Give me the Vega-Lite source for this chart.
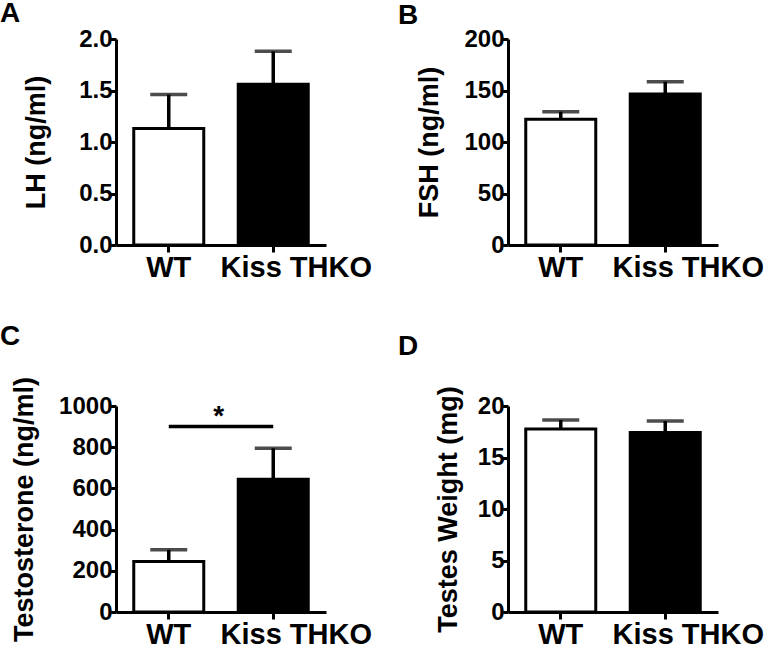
{
  "$schema": "https://vega.github.io/schema/vega-lite/v6.json",
  "padding": {"left": 0, "top": 0, "right": 0, "bottom": 0},
  "columns": 2,
  "bounds": "flush",
  "spacing": {"row": 161, "column": 182},
  "config": {
    "view": {"stroke": null},
    "font": "Liberation Sans",
    "axis": {"grid": false, "domainColor": "black", "domainWidth": 3, "tickColor": "black", "tickWidth": 3, "labelColor": "black", "titleColor": "black", "labelFontWeight": "bold", "titleFontWeight": "bold", "labelFont": "Liberation Sans", "titleFont": "Liberation Sans"},
    "axisY": {"labelFontSize": 24, "titleFontSize": 27, "tickSize": 6, "labelPadding": -2},
    "axisX": {"labelFontSize": 29, "tickSize": 7, "labelPadding": 1, "labelAngle": 0, "labelOffset": {"condition": {"test": "datum.label == 'WT'", "value": 0}, "value": 23}},
    "title": {"font": "Liberation Sans", "fontSize": 28, "fontWeight": "bold", "anchor": "start", "frame": "group", "color": "black", "offset": 0}
  },
  "concat": [
    {
      "width": 210, "height": 206,
      "title": {"text": "A", "dx": -116, "dy": 5},
      "data": {"values": [{"group": "WT", "value": 1.13, "upper": 1.46}, {"group": "Kiss THKO", "value": 1.56, "upper": 1.88}]},
      "encoding": {"x": {"field": "group", "type": "nominal", "title": null, "scale": {"domain": ["WT", "Kiss THKO"], "paddingInner": 0.33, "paddingOuter": 0.17}}},
      "layer": [
        {"mark": {"type": "rule", "strokeWidth": 3.5, "color": "black"}, "encoding": {"y": {"field": "value", "type": "quantitative", "title": "LH (ng/ml)"}, "y2": {"field": "upper"}}},
        {"mark": {"type": "bar", "stroke": "black", "strokeWidth": 3}, "encoding": {"y": {"field": "value", "type": "quantitative", "title": "LH (ng/ml)", "scale": {"domain": [0, 2]}, "axis": {"values": [0, 0.5, 1, 1.5, 2], "format": ".1f", "titlePadding": 28}}, "fill": {"field": "group", "type": "nominal", "scale": {"domain": ["WT", "Kiss THKO"], "range": ["white", "black"]}, "legend": null}}},
        {"mark": {"type": "tick", "thickness": 3.5, "size": 37, "color": "black"}, "encoding": {"y": {"field": "upper", "type": "quantitative", "title": "LH (ng/ml)"}}}
      ]
    },
    {
      "width": 210, "height": 206,
      "title": {"text": "B", "dx": -110, "dy": 7},
      "data": {"values": [{"group": "WT", "value": 122, "upper": 129.4}, {"group": "Kiss THKO", "value": 146.6, "upper": 158.5}]},
      "encoding": {"x": {"field": "group", "type": "nominal", "title": null, "scale": {"domain": ["WT", "Kiss THKO"], "paddingInner": 0.33, "paddingOuter": 0.17}}},
      "layer": [
        {"mark": {"type": "rule", "strokeWidth": 3.5, "color": "black"}, "encoding": {"y": {"field": "value", "type": "quantitative", "title": "FSH (ng/ml)"}, "y2": {"field": "upper"}}},
        {"mark": {"type": "bar", "stroke": "black", "strokeWidth": 3}, "encoding": {"y": {"field": "value", "type": "quantitative", "title": "FSH (ng/ml)", "scale": {"domain": [0, 200]}, "axis": {"values": [0, 50, 100, 150, 200], "format": "d", "titlePadding": 20}}, "fill": {"field": "group", "type": "nominal", "scale": {"domain": ["WT", "Kiss THKO"], "range": ["white", "black"]}, "legend": null}}},
        {"mark": {"type": "tick", "thickness": 3.5, "size": 37, "color": "black"}, "encoding": {"y": {"field": "upper", "type": "quantitative", "title": "FSH (ng/ml)"}}}
      ]
    },
    {
      "width": 210, "height": 206,
      "title": {"text": "C", "dx": -116, "dy": -21},
      "data": {"values": [{"group": "WT", "value": 245, "upper": 302}, {"group": "Kiss THKO", "value": 644, "upper": 795}]},
      "encoding": {"x": {"field": "group", "type": "nominal", "title": null, "scale": {"domain": ["WT", "Kiss THKO"], "paddingInner": 0.33, "paddingOuter": 0.17}}},
      "layer": [
        {"mark": {"type": "rule", "strokeWidth": 3.5, "color": "black"}, "encoding": {"y": {"field": "value", "type": "quantitative", "title": "Testosterone (ng/ml)"}, "y2": {"field": "upper"}}},
        {"mark": {"type": "bar", "stroke": "black", "strokeWidth": 3}, "encoding": {"y": {"field": "value", "type": "quantitative", "title": "Testosterone (ng/ml)", "scale": {"domain": [0, 1000]}, "axis": {"values": [0, 200, 400, 600, 800, 1000], "format": "d", "titlePadding": 20}}, "fill": {"field": "group", "type": "nominal", "scale": {"domain": ["WT", "Kiss THKO"], "range": ["white", "black"]}, "legend": null}}},
        {"mark": {"type": "tick", "thickness": 3.5, "size": 37, "color": "black"}, "encoding": {"y": {"field": "upper", "type": "quantitative", "title": "Testosterone (ng/ml)"}}},
        {"data": {"values": [{"from": "WT", "to": "Kiss THKO", "level": 900}]}, "mark": {"type": "rule", "strokeWidth": 3.5, "color": "black"}, "encoding": {"x": {"field": "from", "type": "nominal"}, "x2": {"field": "to"}, "y": {"field": "level", "type": "quantitative", "title": "Testosterone (ng/ml)"}}},
        {"data": {"values": [{"from": "WT", "level": 945, "label": "*"}]}, "mark": {"type": "text", "fontSize": 28, "fontWeight": "bold", "dx": 50, "baseline": "middle", "color": "black"}, "encoding": {"x": {"field": "from", "type": "nominal"}, "y": {"field": "level", "type": "quantitative", "title": "Testosterone (ng/ml)"}, "text": {"field": "label"}}}
      ]
    },
    {
      "width": 210, "height": 206,
      "title": {"text": "D", "dx": -110, "dy": -21},
      "data": {"values": [{"group": "WT", "value": 17.76, "upper": 18.64}, {"group": "Kiss THKO", "value": 17.43, "upper": 18.54}]},
      "encoding": {"x": {"field": "group", "type": "nominal", "title": null, "scale": {"domain": ["WT", "Kiss THKO"], "paddingInner": 0.33, "paddingOuter": 0.17}}},
      "layer": [
        {"mark": {"type": "rule", "strokeWidth": 3.5, "color": "black"}, "encoding": {"y": {"field": "value", "type": "quantitative", "title": "Testes Weight (mg)"}, "y2": {"field": "upper"}}},
        {"mark": {"type": "bar", "stroke": "black", "strokeWidth": 3}, "encoding": {"y": {"field": "value", "type": "quantitative", "title": "Testes Weight (mg)", "scale": {"domain": [0, 20]}, "axis": {"values": [0, 5, 10, 15, 20], "format": "d", "titlePadding": 15}}, "fill": {"field": "group", "type": "nominal", "scale": {"domain": ["WT", "Kiss THKO"], "range": ["white", "black"]}, "legend": null}}},
        {"mark": {"type": "tick", "thickness": 3.5, "size": 37, "color": "black"}, "encoding": {"y": {"field": "upper", "type": "quantitative", "title": "Testes Weight (mg)"}}}
      ]
    }
  ]
}
